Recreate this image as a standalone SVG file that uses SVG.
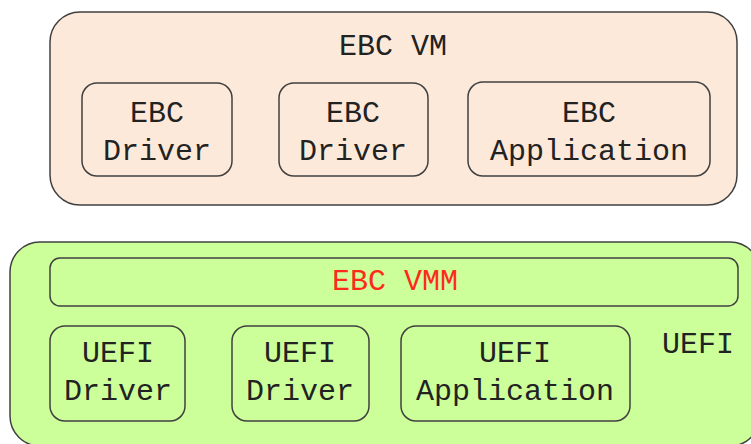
<svg xmlns="http://www.w3.org/2000/svg" width="751" height="444" viewBox="0 0 751 444">
<style>
.vm{fill:#fde9d9;stroke:#404040;stroke-width:1.5}
.uefi{fill:#ccff99;stroke:#404040;stroke-width:1.5}
.box{stroke:#404040;stroke-width:1.5}
text{font-family:"Liberation Mono","Courier New",monospace;font-size:30px;fill:#222;text-anchor:middle}
.red{fill:#ff2a1a}
</style>
<rect width="751" height="444" fill="#ffffff"/>
<g id="ebc-vm">
<rect class="vm" x="50" y="12" width="687" height="193" rx="30"/>
<text x="393" y="55">EBC VM</text>
</g>
<g id="ebc-driver-1">
<rect class="vm box" x="82" y="83" width="150" height="93" rx="15"/>
<text x="157" y="122">EBC</text>
<text x="157" y="160">Driver</text>
</g>
<g id="ebc-driver-2">
<rect class="vm box" x="279" y="83" width="149" height="93" rx="15"/>
<text x="353" y="122">EBC</text>
<text x="353" y="160">Driver</text>
</g>
<g id="ebc-application">
<rect class="vm box" x="468" y="82" width="242" height="94" rx="15"/>
<text x="589" y="122">EBC</text>
<text x="589" y="160">Application</text>
</g>
<g id="uefi">
<rect class="uefi" x="10" y="242" width="750" height="204" rx="30"/>
<text x="698" y="353">UEFI</text>
</g>
<g id="ebc-vmm">
<rect class="uefi" x="50" y="258" width="688" height="48" rx="10"/>
<text class="red" x="395" y="290">EBC VMM</text>
</g>
<g id="uefi-driver-1">
<rect class="uefi" x="50" y="326" width="135" height="95" rx="15"/>
<text x="118" y="362">UEFI</text>
<text x="118" y="400">Driver</text>
</g>
<g id="uefi-driver-2">
<rect class="uefi" x="232" y="326" width="137" height="95" rx="15"/>
<text x="300" y="362">UEFI</text>
<text x="300" y="400">Driver</text>
</g>
<g id="uefi-application">
<rect class="uefi" x="401" y="326" width="229" height="95" rx="15"/>
<text x="515" y="362">UEFI</text>
<text x="515" y="400">Application</text>
</g>
<g id="connectors"></g>
</svg>
